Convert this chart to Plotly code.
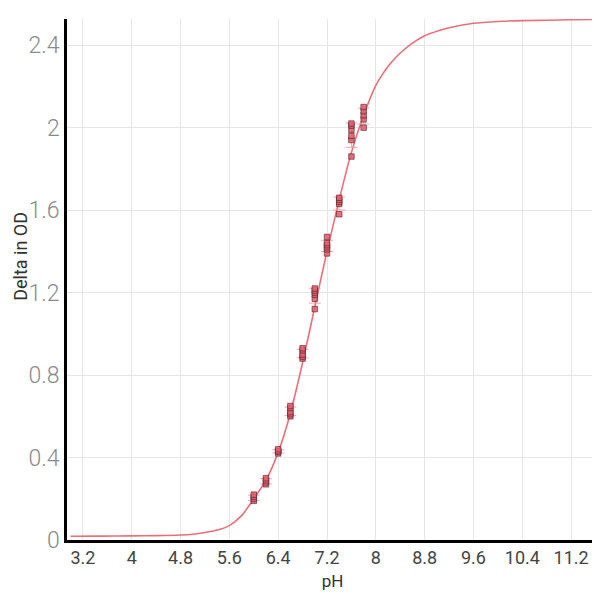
import numpy as np
import plotly.graph_objects as go

# Measured replicates (pH, Delta in OD)
ph_levels = [6.0, 6.2, 6.4, 6.6, 6.8, 7.0, 7.2, 7.4, 7.6, 7.8]
replicates = [
    [0.19, 0.20, 0.21, 0.22],
    [0.27, 0.28, 0.29, 0.30],
    [0.42, 0.43, 0.43, 0.44],
    [0.60, 0.61, 0.62, 0.64, 0.65],
    [0.88, 0.89, 0.90, 0.92, 0.93],
    [1.12, 1.17, 1.19, 1.20, 1.21, 1.22],
    [1.39, 1.41, 1.42, 1.43, 1.44, 1.47],
    [1.58, 1.63, 1.64, 1.65, 1.66],
    [1.86, 1.94, 1.96, 1.99, 2.01, 2.02],
    [2.00, 2.04, 2.06, 2.08, 2.10],
]

# Fitted curve
curve_ph = [3.0, 3.5, 4.0, 4.4, 4.8, 5.0, 5.2, 5.4, 5.6, 5.8, 6.0, 6.2, 6.4, 6.6,
            6.8, 7.0, 7.2, 7.4, 7.6, 7.8, 8.0, 8.1, 8.2, 8.3, 8.4, 8.6, 8.8, 9.0, 9.2,
            9.6, 10.0, 10.4, 11.2, 11.64]
curve_od = [0.018, 0.019, 0.020, 0.021, 0.024, 0.028, 0.036, 0.048, 0.070, 0.118,
            0.20, 0.29, 0.425, 0.615, 0.86, 1.13, 1.40, 1.65, 1.88, 2.06, 2.205,
            2.255, 2.297, 2.332, 2.362, 2.410, 2.446, 2.468, 2.485, 2.506, 2.515,
            2.519, 2.523, 2.525]

x_title = "pH"
y_title = "Delta in OD"

pts_x = [p for p, reps in zip(ph_levels, replicates) for _ in reps]
pts_y = [v for reps in replicates for v in reps]
means = [float(np.mean(r)) for r in replicates]
sds = [float(np.std(r, ddof=1)) for r in replicates]

RED = "#e8707a"
FONT = "Roboto, 'DejaVu Sans', sans-serif"

fig = go.Figure()
fig.add_trace(go.Scatter(
    x=curve_ph, y=curve_od, mode="lines", line=dict(color=RED, width=1.6, shape="spline", smoothing=0.8),
    hoverinfo="skip", showlegend=False))
fig.add_trace(go.Scatter(
    x=ph_levels, y=means, mode="markers", marker=dict(size=1, color="rgba(0,0,0,0)"),
    error_y=dict(type="data", array=sds, visible=True, color="rgba(242,140,152,0.75)", thickness=1, width=6),
    showlegend=False))
fig.add_trace(go.Scatter(
    x=pts_x, y=pts_y, mode="markers",
    marker=dict(symbol="square", size=5.5, color="rgba(226,96,108,0.9)",
                line=dict(color="rgba(80,30,40,0.85)", width=0.7)),
    showlegend=False))

fig.update_layout(
    width=592, height=586,
    margin=dict(l=59, r=2, t=11, b=54),
    paper_bgcolor="white", plot_bgcolor="white",
    font=dict(family=FONT),
    xaxis=dict(
        range=[2.94, 11.64], tick0=0, dtick=0.8, showgrid=True, gridcolor="#e6e6e6", gridwidth=1,
        zeroline=False, showline=True, linecolor="black", linewidth=2.5, ticks="",
        tickfont=dict(size=18, color="#444444", family=FONT),
        title=dict(text=x_title, font=dict(size=17, color="#333333"), standoff=8),
    ),
    yaxis=dict(
        range=[0, 2.527], tick0=0, dtick=0.4, showgrid=True, gridcolor="#e6e6e6", gridwidth=1,
        zeroline=False, showline=True, linecolor="black", linewidth=2.5, ticks="",
        tickfont=dict(size=23, color="#8a8a8a", family=FONT, weight=300),
    ),
    annotations=[dict(
        text=y_title, xref="paper", yref="paper", x=-0.089, y=0.545,
        xanchor="center", yanchor="middle", textangle=-90, showarrow=False,
        font=dict(size=18, color="#333333", family=FONT),
    )],
)

fig.write_html("out.html")
